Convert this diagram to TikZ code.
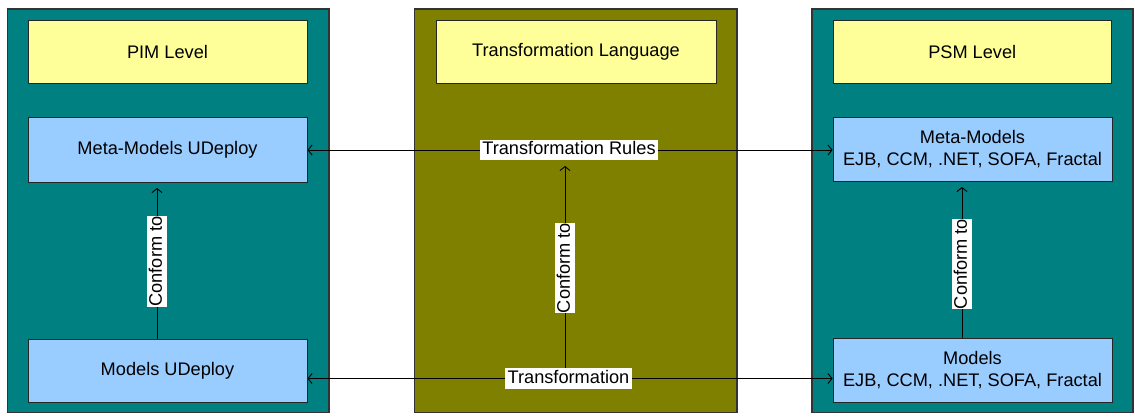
\documentclass[tikz,border=0pt]{standalone}
\usepackage{fontspec}
\setmainfont{Liberation Sans}
\usetikzlibrary{arrows.meta}
\pgfdeclarelayer{panels}
\pgfdeclarelayer{lines}
\pgfsetlayers{panels,lines,main}
\definecolor{teal}{HTML}{008080}
\definecolor{olivebg}{HTML}{808000}
\definecolor{paleyellow}{HTML}{FFFF99}
\definecolor{paleblue}{HTML}{99CCFF}
\definecolor{bord}{HTML}{333333}
\tikzset{
  panel/.style={draw=bord, line width=1.3pt, rectangle, inner sep=0pt},
  box/.style={draw=black!85, line width=1pt, rectangle, inner sep=0pt, align=center,
    font=\fontsize{18.2}{22}\selectfont},
  lvl/.style={box, fill=paleyellow},
  mdl/.style={box, fill=paleblue},
  lbl/.style={fill=white, inner xsep=2.5pt, inner ysep=1.5pt, text height=13.5pt, text depth=4pt,
    font=\fontsize{18.2}{22}\selectfont},
  vlbl/.style={lbl, rotate=90, inner xsep=0pt, inner ysep=1.5pt},
  arr/.style={draw=black, line width=0.9pt, -{Straight Barb[length=4pt,width=10pt]}},
}
\begin{document}
\begin{tikzpicture}[x=1pt,y=-1pt]
\useasboundingbox (0,0) rectangle (1135,416);
% panels
\begin{pgfonlayer}{panels}
\fill[white] (0,0) rectangle (1135,416);
\node[panel, fill=teal, minimum width=321.5pt, minimum height=403.5pt] (PL) at (168.25,210.75) {};
\node[panel, fill=olivebg, minimum width=322.5pt, minimum height=403.5pt] (PM) at (575.75,210.75) {};
\node[panel, fill=teal, minimum width=321pt, minimum height=403.5pt] (PR) at (972.5,210.75) {};
\end{pgfonlayer}
% level boxes
\node[lvl, minimum width=279pt, minimum height=63pt] (pim) at (167.5,51.5) {PIM Level};
\node[lvl, minimum width=280pt, minimum height=63pt] (tl) at (576,51.5) {Transformation Language};
\node[lvl, minimum width=278.5pt, minimum height=63pt] (psm) at (972.25,51.5) {PSM Level};
% model boxes
\node[mdl, minimum width=279pt, minimum height=65pt] (metaL) at (167.5,149.5) {Meta-Models UDeploy};
\node[mdl, minimum width=279pt, minimum height=63pt] (modL) at (167.5,370.5) {Models UDeploy};
\node[mdl, minimum width=279pt, minimum height=64pt] (metaR) at (972.5,149) {Meta-Models\\EJB, CCM, .NET, SOFA, Fractal};
\node[mdl, minimum width=279pt, minimum height=64pt] (modR) at (972.5,370) {Models\\EJB, CCM, .NET, SOFA, Fractal};
% labels
\node[lbl] (rules) at (569,150) {Transformation Rules};
\node[lbl] (trans) at (568.5,378.5) {Transformation};
\node[vlbl] (cfL) at (157,261.5) {Conform to};
\node[vlbl] (cfM) at (565,268) {Conform to};
\node[vlbl] (cfR) at (962,264) {Conform to};
% connectors
\begin{pgfonlayer}{lines}
\draw[arr] (rules.center) -- (metaL.east |- rules.center);
\draw[arr] (rules.center) -- (metaR.west |- rules.center);
\draw[arr] (trans.center) -- (modL.east |- trans.center);
\draw[arr] (trans.center) -- (modR.west |- trans.center);
\draw[arr, shorten >=5.5pt] (trans.north -| cfM) -- (rules.south -| cfM);
\draw[arr, shorten >=5.5pt] (modL.north -| cfL) -- (metaL.south -| cfL);
\draw[arr, shorten >=5.5pt] (modR.north -| cfR) -- (metaR.south -| cfR);
\end{pgfonlayer}
\end{tikzpicture}
\end{document}
